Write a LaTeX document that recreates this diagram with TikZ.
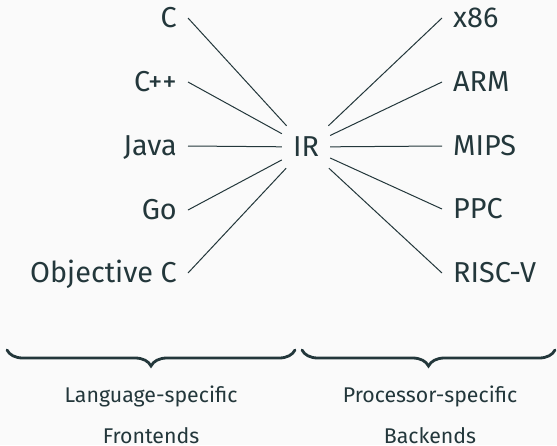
\documentclass[tikz,border=0pt]{standalone}
\usepackage{fontspec}
\setmainfont{Fira Sans}
\usetikzlibrary{decorations.pathreplacing}
\definecolor{fg}{HTML}{23373B}
\definecolor{bg}{HTML}{FAFAFA}
\tikzset{
  lbl/.style={font=\fontsize{28.8}{34}\selectfont, text=fg, inner sep=11pt, text height=19.5pt, text depth=0pt},
  ir/.style={font=\fontsize{28.8}{34}\selectfont, text=fg, minimum width=48pt, minimum height=42pt, inner sep=0pt, text height=19.5pt, text depth=0pt},
  conn/.style={draw=fg, line width=1pt},
  brc/.style={draw=fg, line width=2.8pt, line cap=round, decorate, decoration={brace, amplitude=16pt, mirror}},
  captxt/.style={font=\fontsize{21.3}{26}\selectfont, text=fg, anchor=base, inner sep=0pt}
}
\begin{document}
\begin{tikzpicture}[x=1pt,y=-1pt]
\useasboundingbox[fill=bg] (0,0) rectangle (557,445);
\node[ir] (ir) at (306,147) {IR};
\node[lbl, anchor=east] (c) at (188,18) {C};
\node[lbl, anchor=east] (cpp) at (188,82) {C++};
\node[lbl, anchor=east] (java) at (188,146) {Java};
\node[lbl, anchor=east] (go) at (188,210) {Go};
\node[lbl, anchor=east] (objc) at (188,273) {Objective C};
\node[lbl, anchor=west] (x86) at (442,18) {x86};
\node[lbl, anchor=west] (arm) at (442,82) {ARM};
\node[lbl, anchor=west] (mips) at (442,146) {MIPS};
\node[lbl, anchor=west] (ppc) at (442,209) {PPC};
\node[lbl, anchor=west] (riscv) at (442,273) {RISC-V};
\foreach \n in {c,cpp,java,go,objc} \draw[conn] (\n.east) -- (ir);
\foreach \n in {x86,arm,mips,ppc,riscv} \draw[conn] (ir) -- (\n.west);
\coordinate (bl1) at (7,350);
\coordinate (bl2) at (295,350);
\coordinate (br1) at (302,350);
\coordinate (br2) at (555,350);
\draw[brc] (bl1) -- (bl2);
\draw[brc] (br1) -- (br2);
\node[captxt] (ls) at (151,402) {Language-specific};
\node[captxt] (fe) at (151,443) {Frontends};
\node[captxt] (ps) at (430,402) {Processor-specific};
\node[captxt] (be) at (430,443) {Backends};
\end{tikzpicture}
\end{document}
